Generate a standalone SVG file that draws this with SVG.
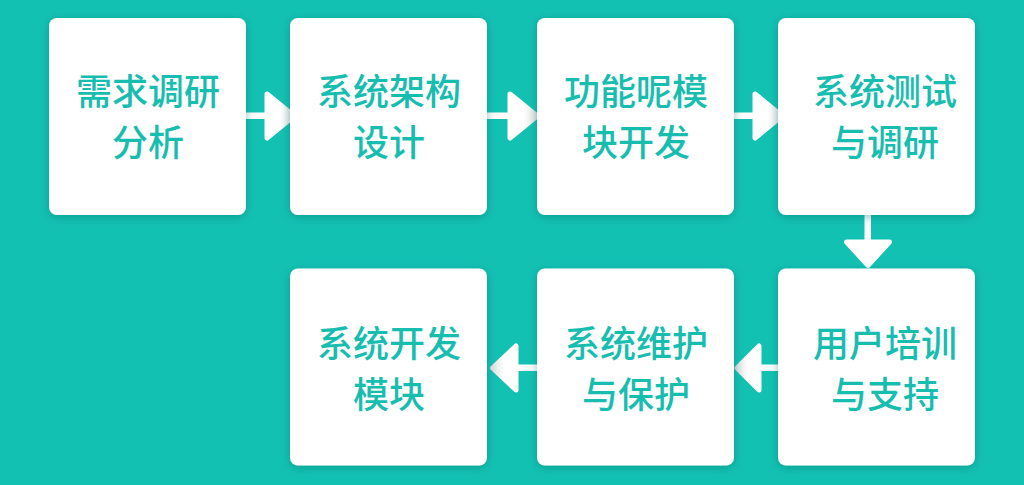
<svg xmlns="http://www.w3.org/2000/svg" width="1024" height="485" viewBox="0 0 1024 485">
  <defs>
    <filter id="sh" x="-20%" y="-20%" width="140%" height="140%">
      <feDropShadow dx="0" dy="2" stdDeviation="5" flood-color="#0a6e66" flood-opacity="0.45"/>
    </filter>
    <linearGradient id="gR" x1="0" y1="0" x2="1" y2="0">
      <stop offset="0" stop-color="#ffffff"/>
      <stop offset="0.5" stop-color="#ffffff"/>
      <stop offset="1" stop-color="#e2e2e2"/>
    </linearGradient>
    <linearGradient id="gL" x1="1" y1="0" x2="0" y2="0">
      <stop offset="0" stop-color="#ffffff"/>
      <stop offset="0.5" stop-color="#ffffff"/>
      <stop offset="1" stop-color="#e2e2e2"/>
    </linearGradient>
    <style>
      .box { fill: #ffffff; filter: url(#sh); }
      .lbl { font-family: "Noto Sans CJK SC", "Noto Sans", sans-serif; font-size: 36px; font-weight: 500; fill: #17BDAF; text-anchor: middle; }
      .shaft { fill: #ffffff; }
      .tri { stroke-linejoin: round; stroke-width: 5; }
    </style>
  </defs>
  <rect x="0" y="0" width="1024" height="485" fill="#13C1B3"/>

  <g id="connectors">
    <!-- 1 -> 2 -->
    <rect class="shaft" x="244" y="112.5" width="24" height="6.5"/>
    <path class="tri" d="M267,94 L294,116 L267,138 Z" fill="url(#gR)" stroke="url(#gR)"/>
    <!-- 2 -> 3 -->
    <rect class="shaft" x="485" y="112.5" width="26" height="6.5"/>
    <path class="tri" d="M510,94 L537,116 L510,138 Z" fill="url(#gR)" stroke="url(#gR)"/>
    <!-- 3 -> 4 -->
    <rect class="shaft" x="732" y="112.5" width="24" height="6.5"/>
    <path class="tri" d="M755,94 L782,116 L755,138 Z" fill="url(#gR)" stroke="url(#gR)"/>
    <!-- 4 -> 5 (down) -->
    <rect class="shaft" x="864.5" y="213" width="6.5" height="30"/>
    <path class="tri" d="M846.5,242 L889.5,242 L868,265.5 Z" fill="#ffffff" stroke="#ffffff"/>
    <!-- 5 -> 6 (left) -->
    <rect class="shaft" x="757" y="364.5" width="23" height="6.5"/>
    <path class="tri" d="M759,346 L759,390 L737,368 Z" fill="url(#gL)" stroke="url(#gL)"/>
    <!-- 6 -> 7 (left) -->
    <rect class="shaft" x="514" y="364.5" width="25" height="6.5"/>
    <path class="tri" d="M516,346 L516,390 L492.5,368 Z" fill="url(#gL)" stroke="url(#gL)"/>
  </g>

  <g id="node1">
    <rect class="box" x="49" y="18" width="197" height="197" rx="8"/>
    <text class="lbl" x="148" y="105">需求调研</text>
    <text class="lbl" x="148" y="156">分析</text>
  </g>
  <g id="node2">
    <rect class="box" x="290" y="18" width="197" height="197" rx="8"/>
    <text class="lbl" x="389" y="105">系统架构</text>
    <text class="lbl" x="389" y="156">设计</text>
  </g>
  <g id="node3">
    <rect class="box" x="537" y="18" width="197" height="197" rx="8"/>
    <text class="lbl" x="636" y="105">功能呢模</text>
    <text class="lbl" x="636" y="156">块开发</text>
  </g>
  <g id="node4">
    <rect class="box" x="778" y="18" width="197" height="197" rx="8"/>
    <text class="lbl" x="885" y="105">系统测试</text>
    <text class="lbl" x="885" y="156">与调研</text>
  </g>
  <g id="node5">
    <rect class="box" x="778" y="268.5" width="197" height="197" rx="8"/>
    <text class="lbl" x="885" y="357">用户培训</text>
    <text class="lbl" x="885" y="408">与支持</text>
  </g>
  <g id="node6">
    <rect class="box" x="537" y="268.5" width="197" height="197" rx="8"/>
    <text class="lbl" x="636" y="357">系统维护</text>
    <text class="lbl" x="636" y="408">与保护</text>
  </g>
  <g id="node7">
    <rect class="box" x="290" y="268.5" width="197" height="197" rx="8"/>
    <text class="lbl" x="389" y="357">系统开发</text>
    <text class="lbl" x="389" y="408">模块</text>
  </g>
</svg>
